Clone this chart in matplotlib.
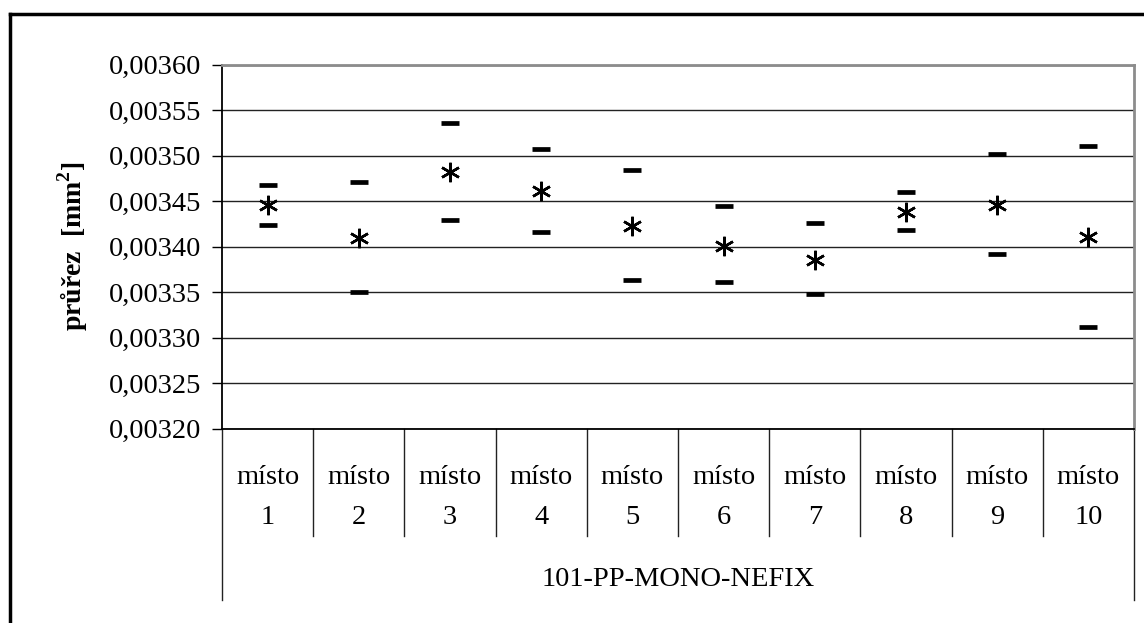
import matplotlib
matplotlib.use("Agg")
import matplotlib.pyplot as plt
from matplotlib.ticker import FuncFormatter
from matplotlib.lines import Line2D

plt.rcParams['font.family'] = ['Liberation Serif', 'DejaVu Serif']
plt.rcParams['mathtext.fontset'] = 'custom'
plt.rcParams['mathtext.rm'] = 'Liberation Serif'
plt.rcParams['mathtext.bf'] = 'Liberation Serif:bold'

# values
categories = ["místo", "místo", "místo", "místo", "místo",
              "místo", "místo", "místo", "místo", "místo"]
numbers = ["1", "2", "3", "4", "5", "6", "7", "8", "9", "10"]
group_label = "101-PP-MONO-NEFIX"
upper = [0.003468, 0.003471, 0.003536, 0.003507, 0.003484,
         0.003445, 0.003426, 0.003460, 0.003502, 0.003510]
mean = [0.003446, 0.003409, 0.003482, 0.003461, 0.003422,
        0.003401, 0.003385, 0.003438, 0.003446, 0.003410]
lower = [0.003424, 0.003350, 0.003429, 0.003416, 0.003363,
         0.003361, 0.003348, 0.003418, 0.003392, 0.003311]
yticks = [0.00320, 0.00325, 0.00330, 0.00335, 0.00340,
          0.00345, 0.00350, 0.00355, 0.00360]

W, H = 1144, 623
fig = plt.figure(figsize=(W / 100, H / 100), dpi=100)

# plot area in pixels
left, right, top, bottom = 222, 1134, 64.5, 428.5
ax = fig.add_axes([left / W, 1 - bottom / H, (right - left) / W, (bottom - top) / H])

x = list(range(1, len(mean) + 1))
ax.plot(x, upper, linestyle='none', marker='_', markersize=12.5, mew=3.4, color='black', zorder=3)
ax.plot(x, lower, linestyle='none', marker='_', markersize=12.5, mew=3.4, color='black', zorder=3)
ax.plot(x, mean, linestyle='none', marker=(6, 2, 0), markersize=14, mew=1.8, color='black', zorder=3)

ax.set_xlim(0.5, len(mean) + 0.5)
ax.set_ylim(yticks[0], yticks[-1])
ax.set_yticks(yticks)
ax.yaxis.set_major_formatter(FuncFormatter(lambda v, p: f"{v:.5f}".replace('.', ',')))
ax.tick_params(axis='y', direction='out', length=7, width=1, labelsize=20.5, pad=8, colors='black')
ax.set_xticks([])
ax.grid(axis='y', color='#222222', linewidth=1)
ax.set_axisbelow(True)

ax.spines['top'].set_color('#8c8c8c')
ax.spines['top'].set_linewidth(2)
ax.spines['right'].set_color('#8c8c8c')
ax.spines['right'].set_linewidth(2)
ax.spines['left'].set_linewidth(1.3)
ax.spines['bottom'].set_linewidth(1.3)

# category axis: separators and labels below the plot
h = bottom - top
def ay(py):
    return (bottom - py) / h

tr = ax.get_xaxis_transform()
for b in [i + 0.5 for i in range(1, len(mean))]:
    ax.add_line(Line2D([b, b], [0, ay(536)], transform=tr, color='#222222', lw=1, clip_on=False))
for b in [0.5, len(mean) + 0.5]:
    ax.add_line(Line2D([b, b], [0, ay(600)], transform=tr, color='#222222', lw=1, clip_on=False))

for xi, cat, num in zip(x, categories, numbers):
    ax.text(xi, ay(477), cat, transform=tr, ha='center', va='center', fontsize=20.5)
    ax.text(xi, ay(517), num, transform=tr, ha='center', va='center', fontsize=20.5)
ax.text((len(mean) + 1) / 2, ay(580), group_label, transform=tr, ha='center', va='center', fontsize=20.5)

fig.text(73 / W, 1 - 246 / H, r"průřez  [mm$^{\mathbf{2}}$]", rotation=90, ha='center', va='center',
         fontsize=20, fontweight='bold')

# outer border (only left and top visible)
fig.add_artist(Line2D([9.5 / W, 9.5 / W], [0, 1 - 13.5 / H], transform=fig.transFigure, color='black', lw=2.5))
fig.add_artist(Line2D([9.5 / W, 1], [1 - 13.5 / H, 1 - 13.5 / H], transform=fig.transFigure, color='black', lw=2.5))

fig.savefig("out.png", dpi=100)
